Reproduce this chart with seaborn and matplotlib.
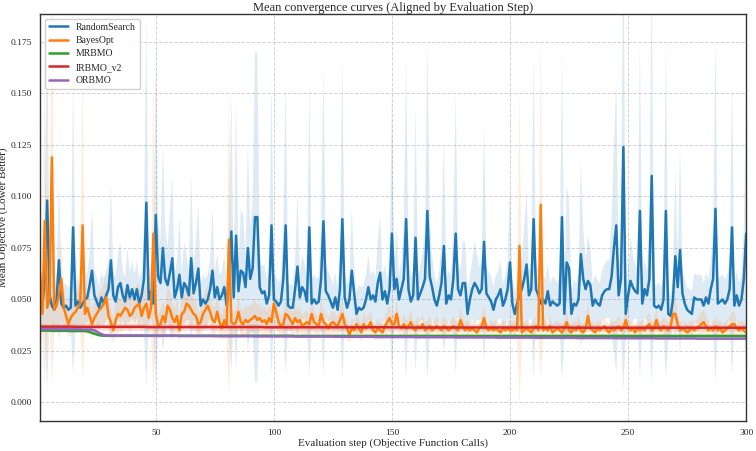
import numpy as np
import pandas as pd
import matplotlib
matplotlib.use("Agg")
import matplotlib.pyplot as plt
import seaborn as sns

# ---------------- data (values in units of 1e-3) ----------------
methods = ["RandomSearch", "BayesOpt", "MRBMO", "IRBMO_v2", "ORBMO"]
colors = ["#1f77b4", "#ff7f0e", "#2ca02c", "#d62728", "#9467bd"]
steps = list(range(1, 301))

rs_mean = [50,47,60,98,52,47,45,50,69,48,
           46,47,45,46,85,47,49,46,48,50,
           51,57,64,52,49,46,51,48,52,55,
           69,52,49,56,58,52,49,57,51,55,
           50,55,48,52,60,97,50,54,48,91,
           61,58,75,60,57,63,70,51,55,62,
           51,58,56,52,70,53,58,65,47,50,
           48,50,55,64,51,56,50,52,56,47,
           60,83,51,81,54,64,63,56,75,60,
           65,90,90,56,53,54,48,52,86,50,
           49,47,49,60,86,47,46,46,55,66,
           51,56,54,49,85,48,50,48,49,60,
           88,54,52,49,46,51,45,55,89,51,
           46,50,64,53,43,46,45,46,50,56,
           50,52,49,58,63,50,54,48,55,82,
           55,60,50,55,60,89,55,49,52,80,
           50,53,56,60,93,61,56,50,47,52,
           58,76,48,52,50,60,82,55,52,58,
           58,43,50,55,58,56,53,55,78,53,
           51,49,45,50,52,55,47,50,55,68,
           48,43,48,52,55,60,67,52,55,89,
           55,52,48,50,48,54,47,49,48,47,
           48,90,43,68,65,43,48,47,50,72,
           60,55,59,57,47,50,48,47,52,54,
           55,55,61,75,86,52,60,124,43,52,
           59,56,54,53,93,48,55,52,60,110,
           47,46,47,45,50,93,43,42,50,71,
           56,74,53,48,45,44,43,51,50,50,
           50,47,51,48,55,60,94,48,49,50,
           48,50,55,85,47,52,47,50,60,82]

rs_sd = [12,11,25,92,12,11,11,12,38,12,
         11,11,11,11,72,11,12,11,12,12,
         12,16,30,12,12,11,12,12,12,14,
         38,12,12,16,20,12,12,18,12,14,
         12,14,12,12,25,90,12,13,12,82,
         28,20,50,25,18,30,40,12,14,28,
         12,20,16,12,40,13,20,32,11,12,
         12,12,14,30,12,16,12,12,16,11,
         25,68,12,65,13,30,28,16,50,25,
         32,80,80,16,13,13,12,12,72,12,
         12,11,12,25,72,11,11,11,14,35,
         12,16,13,12,72,12,12,12,12,25,
         75,13,12,12,11,12,11,14,78,12,
         11,12,30,13,11,11,11,11,12,16,
         12,12,12,20,28,12,13,12,14,68,
         14,25,12,14,25,78,14,12,12,65,
         12,13,16,25,82,28,16,12,11,12,
         20,52,12,12,12,25,68,14,12,20,
         20,11,12,14,20,16,13,14,58,13,
         12,12,11,12,12,14,11,12,14,38,
         12,11,12,12,14,25,36,12,14,78,
         14,12,12,12,12,13,11,12,12,11,
         12,80,11,38,32,11,12,11,12,45,
         25,14,22,18,11,12,12,11,12,13,
         14,14,28,50,72,12,25,118,11,12,
         22,16,13,13,82,12,14,12,25,100,
         11,11,11,11,12,82,11,11,12,42,
         16,50,13,12,11,11,11,12,12,12,
         12,11,12,12,14,25,84,12,12,12,
         12,12,14,72,11,12,11,12,25,68]

bo_mean = [63,43,88,46,50,119,45,47,52,60,
           46,42,38,41,43,44,46,48,86,43,
           46,42,38,41,43,45,46,48,51,42,
           39,35,40,43,42,44,46,45,42,43,
           46,47,48,42,46,48,41,46,82,43,
           37,38,42,39,47,45,41,39,42,35,
           43,44,48,47,45,43,42,38,39,43,
           45,47,44,40,39,44,39,36,40,37,
           79,39,38,39,44,39,38,40,39,40,
           41,42,40,41,39,40,38,41,39,48,
           44,39,37,38,43,42,40,38,41,39,
           40,37,38,39,38,43,39,38,37,43,
           39,38,36,38,39,38,37,40,43,38,
           36,33,36,35,38,36,34,38,36,37,
           39,35,34,36,35,34,37,39,41,38,
           38,43,37,36,38,36,37,39,36,35,
           37,36,38,35,36,37,35,36,37,36,
           35,37,36,35,36,37,36,35,40,37,
           35,36,35,36,35,34,36,37,41,36,
           35,36,35,36,35,34,36,35,36,35,
           35,36,35,76,34,35,36,35,34,36,
           37,35,96,35,36,35,37,34,35,36,
           35,34,36,39,35,34,36,35,37,35,
           34,36,42,36,35,34,36,35,36,37,
           35,34,36,35,36,37,35,36,40,36,
           35,36,34,36,35,36,35,37,38,35,
           36,40,36,35,37,36,35,37,43,43,
           38,35,36,35,34,35,36,35,36,37,
           38,39,37,35,36,35,37,35,36,34,
           35,36,37,38,38,36,35,36,35,34]

bo_sd = [50,10,80,10,12,110,10,10,15,20,
         9,8,7,8,8,9,9,10,75,8,
         9,8,7,8,8,9,9,10,12,8,
         7,6,8,9,8,9,10,9,8,8,
         9,10,10,8,9,10,8,9,80,8,
         6,7,8,7,10,9,7,7,8,6,
         8,8,10,10,9,8,8,6,7,8,
         9,10,8,7,7,8,7,6,7,6,
         76,7,6,7,8,7,6,7,7,7,
         7,8,7,7,6,7,6,7,6,10,
         8,6,5,6,8,7,6,6,7,6,
         6,5,6,6,5,8,6,5,5,8,
         6,5,5,5,6,5,5,6,8,5,
         5,4,5,4,6,5,4,6,5,5,
         6,4,4,5,4,4,5,6,7,5,
         5,7,5,4,5,4,5,6,4,4,
         5,4,5,4,4,5,4,4,5,4,
         4,5,4,4,4,5,4,4,6,5,
         4,4,4,4,4,4,4,5,6,4,
         4,4,4,4,4,4,4,4,4,4,
         4,4,4,78,4,4,4,4,4,4,
         5,4,85,4,4,4,5,4,4,4,
         4,4,4,6,4,4,4,4,5,4,
         4,4,7,4,4,4,4,4,4,5,
         4,4,4,4,4,5,4,4,6,4,
         4,4,4,4,4,4,4,5,6,4,
         4,6,4,4,5,4,4,5,7,7,
         5,4,4,4,4,4,4,4,4,5,
         6,6,5,4,4,4,5,4,4,4,
         4,4,5,6,6,4,4,4,4,4]

mr_mean = ([34.9]*5 + [34.8]*8 + [34.7]*7 +
           [34.5, 34.2, 33.8, 33.4, 33.0, 32.7, 32.5, 32.4] +
           [32.4]*80 + [32.3]*192)
ir_mean = [36.8]*15 + [36.7]*30 + [36.6]*50 + [36.5]*60 + [36.4]*70 + [36.3]*75
orb_mean = ([35.6]*8 + [35.5]*10 + [35.4]*5 +
            [35.0, 34.4, 33.8, 33.2, 32.8, 32.6] +
            [32.5]*15 + [32.4]*15 + [32.3]*15 + [32.2]*17 + [32.1]*17 +
            [32.0]*17 + [31.9]*17 + [31.8]*17 + [31.7]*17 + [31.6]*17 +
            [31.5]*17 + [31.4]*17 + [31.3]*17 + [31.2]*17 + [31.1]*17 + [31.0]*22)
mr_sd = [0.6]*300
ir_sd = [1.6]*300
orb_sd = [0.5]*300

means = [rs_mean, bo_mean, mr_mean, ir_mean, orb_mean]
sds = [rs_sd, bo_sd, mr_sd, ir_sd, orb_sd]

# ---------------- build long dataframe ----------------
frames = []
for m, mu, sd in zip(methods, means, sds):
    mu = np.asarray(mu, float) * 1e-3
    sd = np.asarray(sd, float) * 1e-3
    frames.append(pd.DataFrame({"step": steps, "mean": mu, "lo": mu - sd,
                                "hi": mu + sd, "method": m}))
df = pd.concat(frames, ignore_index=True)

# ---------------- plot ----------------
sns.set_style("white")
plt.rcParams["font.family"] = ["Liberation Serif", "DejaVu Serif"]

fig = plt.figure(figsize=(7.56, 4.51), dpi=100)
ax = fig.add_axes([0.053, 0.0665, 0.934, 0.9025])

for m, c in zip(methods, colors):
    d = df[df["method"] == m]
    ax.fill_between(d["step"], d["lo"], d["hi"], color=c, alpha=0.14, linewidth=0)

sns.lineplot(data=df, x="step", y="mean", hue="method", hue_order=methods,
             palette=colors, linewidth=1.8, ax=ax, errorbar=None)

ax.set_xlim(1, 300)
ax.set_ylim(-0.009, 0.1886)
ax.set_xticks([50, 100, 150, 200, 250, 300])
ax.set_yticks([0.0, 0.025, 0.05, 0.075, 0.1, 0.125, 0.15, 0.175])
ax.set_yticklabels(["0.000", "0.025", "0.050", "0.075", "0.100", "0.125", "0.150", "0.175"])
ax.tick_params(labelsize=6.8, direction="out", length=3.5, width=0.8,
               color="#333333", pad=2)
ax.grid(True, linestyle="--", color="#c8c8c8", alpha=0.8, linewidth=0.7)
for s in ax.spines.values():
    s.set_color("#333333")
    s.set_linewidth(1.0)

ax.set_title("Mean convergence curves (Aligned by Evaluation Step)", fontsize=9, pad=2)
ax.set_xlabel("Evaluation step (Objective Function Calls)", fontsize=8, labelpad=1)
ax.set_ylabel("Mean Objective (Lower Better)", fontsize=8, labelpad=2)

leg = ax.legend(loc="upper left", fontsize=7, frameon=True, handlelength=2.0,
                borderpad=0.4, labelspacing=0.45)
leg.get_frame().set_edgecolor("#cccccc")
leg.get_frame().set_alpha(0.9)

fig.savefig("out.png", dpi=100)
